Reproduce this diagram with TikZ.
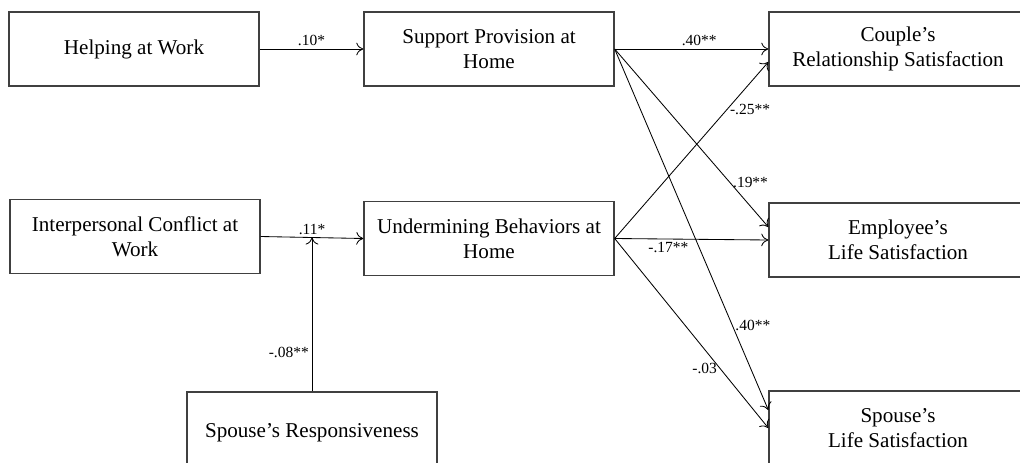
\documentclass[tikz,border=0pt]{standalone}
\usepackage{fontspec}
\setmainfont{Liberation Serif}
\usetikzlibrary{arrows.meta,positioning}

\begin{document}
\begin{tikzpicture}[x=0.025cm,y=-0.025cm,
  box/.style={draw=black!75,line width=0.9pt,minimum width=6.25cm,
    minimum height=1.85cm,align=center,font=\fontsize{15}{17.7}\selectfont},
  wide/.style={box,minimum width=6.45cm},
  path/.style={-{To[length=5pt,width=9pt]},line width=0.6pt},
  coef/.style={font=\fontsize{11}{13}\selectfont,inner sep=2pt}]

  \clip (0,0) rectangle (1020,462);

  % work side
  \node[box] (help) at (134,49) {Helping at Work};
  \node[box] (conflict) at (135,236.5) {Interpersonal Conflict at\\Work};
  \node[box,minimum height=2.05cm] (resp) at (312,433) {Spouse’s Responsiveness};

  % home side
  \node[box] (support) at (489,49) {Support Provision at\\Home};
  \node[box] (underm) at (489,238.5) {Undermining Behaviors at\\Home};

  % outcomes
  \node[wide] (couple) at (898,49) {Couple’s\\Relationship Satisfaction};
  \node[wide] (emplife) at (898,240) {Employee’s\\Life Satisfaction};
  \node[wide] (spolife) at (898,428) {Spouse’s\\Life Satisfaction};

  \draw[path] (help) -- node[coef,above] {.10*} (support);
  \draw[path] (conflict.east) -- coordinate[midway] (mod)
    node[coef,midway,above] {.11*} (underm.west);
  \draw[path] (resp) -- node[coef,pos=0.25,left] {-.08**} (mod);

  \draw[path] (support.east) -- node[coef,above,pos=0.55] {.40**} (couple.west);
  \draw[path] (support.east) -- node[coef,right,pos=0.75] {.19**}
    ([yshift=0.325cm]emplife.west);
  \draw[path] (support.east) -- node[coef,right,pos=0.765] {.40**}
    ([yshift=0.45cm]spolife.west);

  \draw[path] (underm.east) -- node[coef,right,pos=0.73] {-.25**}
    ([yshift=-0.325cm]couple.west);
  \draw[path] (underm.east) -- node[coef,below,pos=0.35] {-.17**} (emplife.west);
  \draw[path] (underm.east) -- node[coef,left,pos=0.686] {-.03} (spolife.west);

\end{tikzpicture}
\end{document}
